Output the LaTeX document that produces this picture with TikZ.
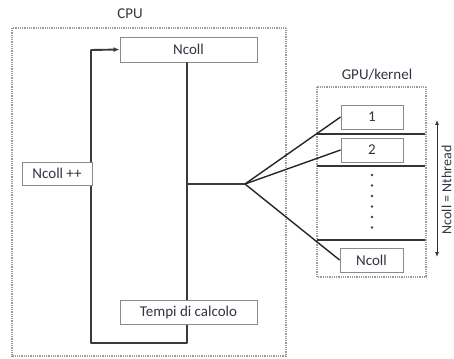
\documentclass[tikz,border=0pt]{standalone}
\usepackage{fontspec}
\setmainfont{Carlito}
\usetikzlibrary{arrows.meta}
\definecolor{boxline}{HTML}{8A8A8A}
\definecolor{wire}{HTML}{3A3A3A}
\definecolor{txt}{HTML}{303540}
\begin{document}
\begin{tikzpicture}[x=1pt,y=-1pt,
  every node/.style={font=\fontsize{15}{17}\selectfont, text=txt},
  frame/.style={draw=boxline!85, line width=1.6pt, dash pattern=on 0.9pt off 0.9pt},
  cell/.style={draw=boxline, line width=0.9pt, fill=white, inner sep=0pt},
  wireline/.style={draw=wire, line width=1.9pt, line join=round},
  fanline/.style={draw=black!85, line width=1.4pt},
  sepline/.style={draw=black!80, line width=1.5pt},
  dotmark/.style={circle, fill=black!75, inner sep=0pt, minimum size=2.6pt}]
\useasboundingbox (0,0) rectangle (454,358);

% containers
\draw[frame] (12,28) rectangle (286,356);
\node (cputitle) at (130,14) {CPU};
\draw[frame] (317,87) rectangle (426,277);
\node (gputitle) at (377,75) {GPU/kernel};

% CPU loop: Ncoll -> down -> back up into Ncoll
\coordinate (loopBR) at (187,343);
\coordinate (loopBL) at (91,343);
\coordinate (loopTL) at (91,50);
\coordinate (split) at (245,184);
\node[cell, minimum width=137pt, minimum height=25pt] (ncoll) at (188.5,49.5) {Ncoll};
\draw[wireline, -{Latex[length=6pt,width=5pt]}]
  (ncoll.south -| loopBR) -- (loopBR) -- (loopBL) -- (loopTL) -- (ncoll.west);
\draw[wireline] (split -| loopBR) -- (split);

\node[cell, minimum width=70pt, minimum height=23pt] (ncollpp) at (57,173.5) {Ncoll ++};
\node[cell, minimum width=137pt, minimum height=24pt] (tempi) at (188.5,312.5) {Tempi di calcolo};

% GPU threads
\node[cell, minimum width=62pt, minimum height=24pt] (t1) at (372,117) {1};
\node[cell, minimum width=62pt, minimum height=24pt] (t2) at (372,150) {2};
\node[cell, minimum width=63pt, minimum height=24pt] (tn) at (371.5,260) {Ncoll};

\coordinate (s1l) at (317,134); \coordinate (s1r) at (425,134);
\coordinate (s2l) at (317,166); \coordinate (s2r) at (425,166);
\coordinate (s3l) at (317,240); \coordinate (s3r) at (425,240);
\draw[sepline] (s1l) -- (s1r);
\draw[sepline] (s2l) -- (s2r);
\draw[sepline] (s3l) -- (s3r);

\foreach \i/\yy in {1/175,2/185.5,3/196,4/206.5,5/217,6/227.5}
  \node[dotmark] (d\i) at (372,\yy) {};

% fan-out from the CPU to the threads
\draw[fanline] (split) -- (t1.west);
\draw[fanline] (split) -- (t2.west);
\draw[fanline] (split) -- (tn.west);

% thread count
\coordinate (atop) at (437,120);
\coordinate (abot) at (437,257);
\draw[black!80, line width=0.9pt, {Latex[length=5pt,width=4pt]}-{Latex[length=5pt,width=4pt]}] (atop) -- (abot);
\node[rotate=90, font=\fontsize{14}{16}\selectfont] (count) at (446.5,190) {Ncoll = Nthread};
\end{tikzpicture}
\end{document}
